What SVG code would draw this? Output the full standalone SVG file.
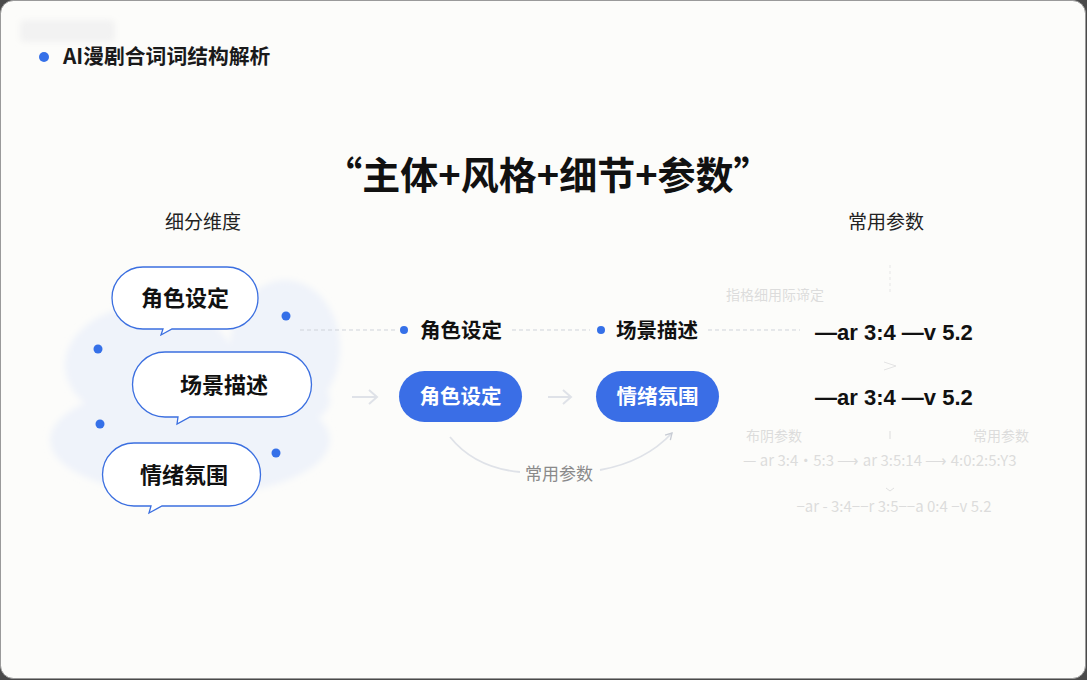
<svg xmlns="http://www.w3.org/2000/svg" width="1087" height="680" viewBox="0 0 1087 680">
<defs>
<style>
.t{font-family:"Noto Sans CJK SC","Liberation Sans",sans-serif;}
.b{font-weight:700;}
.bub{fill:#fff;stroke:#3b6fe0;stroke-width:1.3;}
.dot{fill:#3570e8;}
.dash{stroke:#cfd3da;stroke-width:1;stroke-dasharray:4 3;fill:none;}
.arr{stroke:#dfe2e8;stroke-width:2;fill:none;}
.pill{fill:#3a6ee6;}
.faint{fill:#dcdcdc;font-family:"Noto Sans CJK SC","Liberation Sans",sans-serif;font-size:13px;}
.faint.lg{font-size:15px;}
.faint.md{font-size:14px;}
</style>
<marker id="ah" viewBox="0 0 10 10" refX="8" refY="5" markerWidth="9" markerHeight="9" orient="auto" markerUnits="userSpaceOnUse"><path d="M1,1 L8,5 L1,9" fill="none" stroke="#c8ccd4" stroke-width="1.5"/></marker>
<filter id="soft" x="-20%" y="-20%" width="140%" height="140%"><feGaussianBlur stdDeviation="3"/></filter>
</defs>
<rect x="0" y="0" width="1087" height="680" fill="#4a4a4a"/>
<rect x="0.5" y="0.5" width="1085" height="678" rx="13" fill="#fcfcfa" stroke="#9a9a9a" stroke-width="1"/>

<!-- header -->
<g id="header">
<rect x="20" y="20" width="95" height="22" rx="4" fill="#f2f2f2" filter="url(#soft)"/>
<circle class="dot" cx="44" cy="57" r="5"/>
<text class="t b" x="63" y="64" font-size="20.8" fill="#1a1a1a">AI漫剧合词词结构解析</text>
</g>

<g id="title">
<text class="t b" x="548" y="189" font-size="38" text-anchor="middle" fill="#111">“主体+风格+细节+参数”</text>
</g>
<text class="t" x="203" y="229" font-size="19" text-anchor="middle" fill="#222">细分维度</text>
<text class="t" x="886" y="229" font-size="19" text-anchor="middle" fill="#222">常用参数</text>

<!-- blobs -->
<g id="blobs" fill="#eff3fa" filter="url(#soft)">
<ellipse cx="150" cy="365" rx="85" ry="60"/>
<ellipse cx="285" cy="348" rx="55" ry="68"/>
<ellipse cx="190" cy="440" rx="140" ry="56"/>
<ellipse cx="270" cy="400" rx="60" ry="30"/>
</g>

<!-- bubbles -->
<g id="bubble1">
<path class="bub" d="M143,267 H227 A31,31 0 0 1 227,329 H172 L161,335 L163,329 H143 A31,31 0 0 1 143,267 Z"/>
<text class="t b" x="185" y="306" font-size="22" text-anchor="middle" fill="#111">角色设定</text>
</g>
<g id="bubble2">
<path class="bub" d="M165,352 H279 A32,32 0 0 1 279,417 H190 L177,424 L178,417 H165 A32,32 0 0 1 165,352 Z"/>
<text class="t b" x="224" y="393" font-size="22" text-anchor="middle" fill="#111">场景描述</text>
</g>
<g id="bubble3">
<path class="bub" d="M134,443 H229 A31,31 0 0 1 229,506 H162 L149,513 L151,506 H134 A31,31 0 0 1 134,443 Z"/>
<text class="t b" x="184" y="483" font-size="22" text-anchor="middle" fill="#111">情绪氛围</text>
</g>
<g id="dots">
<circle class="dot" cx="286" cy="316" r="4.5"/>
<circle class="dot" cx="98" cy="349" r="4.5"/>
<circle class="dot" cx="100" cy="424" r="4.5"/>
<circle class="dot" cx="276" cy="453" r="4.5"/>
</g>

<!-- connectors -->
<g id="connectors">
<line class="dash" x1="300" y1="330" x2="395" y2="330"/>
<line class="dash" x1="512" y1="330" x2="590" y2="330"/>
<line class="dash" x1="708" y1="330" x2="800" y2="330"/>
<path class="arr" d="M352,397 H377 M369,390 L377,397 L369,404"/>
<path class="arr" d="M548,397 H571 M563,390 L571,397 L563,404"/>
<path d="M450,437 Q475,468 520,472" fill="none" stroke="#dfe2e8" stroke-width="1.8"/>
<path d="M600,470 Q645,462 672,433" fill="none" stroke="#dfe2e8" stroke-width="1.8" marker-end="url(#ah)"/>
</g>
<text class="t" x="559" y="480" font-size="17" text-anchor="middle" fill="#8a8a8a">常用参数</text>

<!-- middle labels -->
<g id="label1">
<circle class="dot" cx="404" cy="330" r="4"/>
<text class="t b" x="420" y="338" font-size="20.5" fill="#111">角色设定</text>
</g>
<g id="label2">
<circle class="dot" cx="601" cy="330" r="4"/>
<text class="t b" x="616" y="338" font-size="20.5" fill="#111">场景描述</text>
</g>
<g id="pill1">
<rect class="pill" x="399" y="371" width="123" height="51" rx="25.5"/>
<text class="t b" x="460.5" y="404" font-size="20.5" text-anchor="middle" fill="#fff">角色设定</text>
</g>
<g id="pill2">
<rect class="pill" x="596" y="371" width="123" height="51" rx="25.5"/>
<text class="t b" x="657.5" y="404" font-size="20.5" text-anchor="middle" fill="#fff">情绪氛围</text>
</g>

<!-- right params -->
<g id="param1">
<text x="815" y="340" font-family="Liberation Sans, Arial, sans-serif" font-weight="700" font-size="22" fill="#111">—ar 3:4 —v 5.2</text>
</g>
<g id="param2">
<text x="815" y="405" font-family="Liberation Sans, Arial, sans-serif" font-weight="700" font-size="22" fill="#111">—ar 3:4 —v 5.2</text>
</g>

<!-- faint background texts -->
<g id="faint">
<line x1="890" y1="265" x2="890" y2="292" stroke="#e6e6e6" stroke-dasharray="3 3"/>
<text class="faint md" x="726" y="300">指格细用际谛定</text>
<path d="M884,362 L896,366 L884,370" fill="none" stroke="#e4e4e4" stroke-width="1"/>
<text class="faint md" x="746" y="441">布阴参数</text>
<line x1="890" y1="431" x2="890" y2="439" stroke="#dcdcdc"/>
<text class="faint md" x="1001" y="441" text-anchor="middle">常用参数</text>
<text class="faint lg" x="743" y="466">— ar 3:4·5:3  ⟶   ar 3:5:14  ⟶  4:0:2:5:Y3</text>
<path d="M886,488 L890,491 L894,488" fill="none" stroke="#e0e0e0"/>
<text class="faint lg" x="894" y="512" text-anchor="middle">−ar - 3:4−−r 3:5−−a 0:4 −v 5.2</text>
</g>
</svg>
